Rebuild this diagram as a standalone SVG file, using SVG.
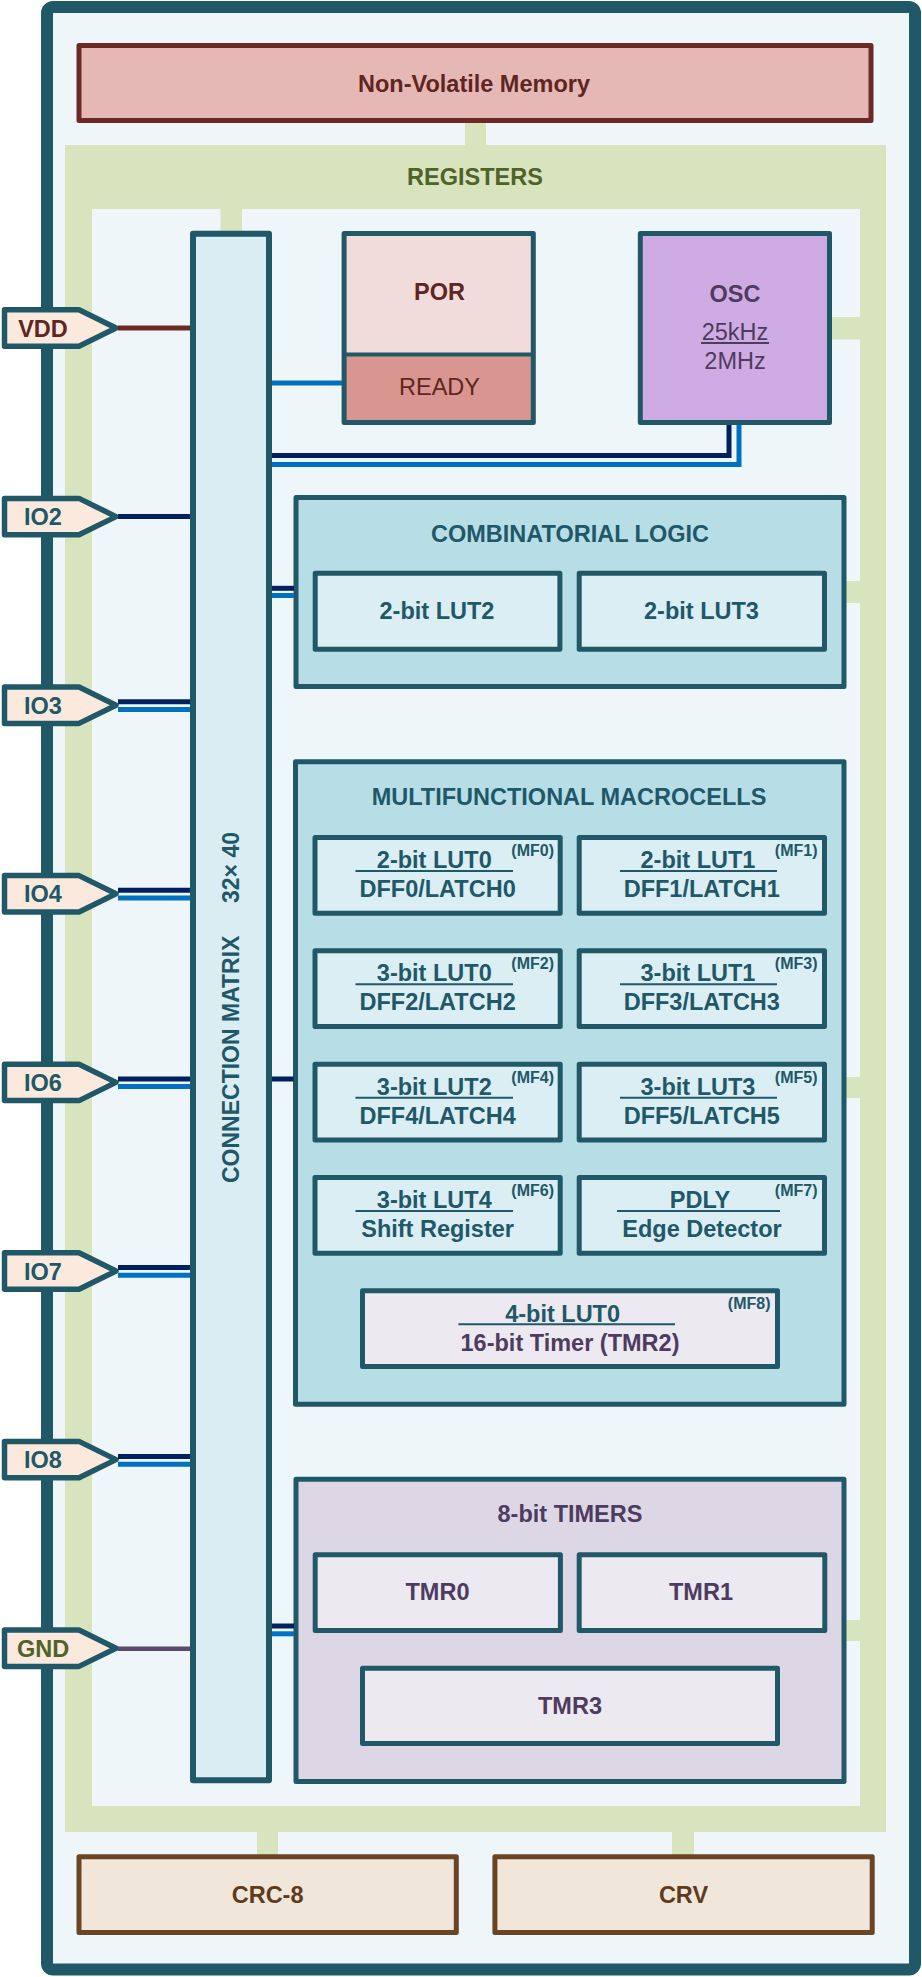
<svg xmlns="http://www.w3.org/2000/svg" width="922" height="1977" viewBox="0 0 922 1977">
<style>
text{font-family:"Liberation Sans",Arial,sans-serif;font-size:23.5px;text-anchor:middle}
.b{font-weight:bold}
.teal{fill:#215868}.mar{fill:#5F2522}.pur{fill:#4F3B5F}.olv{fill:#4F6228}.brn{fill:#5E3B1C}
.box{stroke:#215868;stroke-width:5;stroke-linejoin:round}
.blk{fill:#B7DDE7}.sub{fill:#DBEEF4}.tsub{fill:#ECE9F1}
.mf{font-size:16px;font-weight:bold;text-anchor:end;fill:#215868}
.ul{stroke:#215868;stroke-width:2}
.grn{fill:#D8E4BE}
.pin{fill:#FBE9DD;stroke:#215868;stroke-width:5.5;stroke-linejoin:round}
.nv{stroke:#002060;stroke-width:5;fill:none}
.bl{stroke:#0070C0;stroke-width:5;fill:none}
</style>
<!-- outer frame -->
<rect id="frame" x="47" y="7" width="868" height="1962.5" rx="6" fill="#EEF6F9" stroke="#215868" stroke-width="12"/>

<!-- registers -->
<g id="registers">
<rect class="grn" x="65" y="145" width="821" height="1687"/>
<rect x="92" y="209" width="768" height="1597" fill="#EEF6F9"/>
<text class="b olv" x="475" y="184.5">REGISTERS</text>
</g>

<!-- register stubs -->
<g id="register-links">
<rect class="grn" x="465" y="121" width="21" height="26"/>
<rect class="grn" x="220.5" y="207" width="21.5" height="26"/>
<rect class="grn" x="830" y="317" width="32" height="22.5"/>
<rect class="grn" x="845" y="581" width="17" height="22"/>
<rect class="grn" x="845" y="1077" width="17" height="21"/>
<rect class="grn" x="845" y="1620" width="17" height="21"/>
<rect class="grn" x="257" y="1830" width="21" height="26"/>
<rect class="grn" x="672" y="1830" width="22" height="26"/>
</g>

<g id="nvm">
<rect x="79" y="45.5" width="792" height="75" fill="#E5B8B5" stroke="#6B2A26" stroke-width="5" stroke-linejoin="round"/>
<text class="b mar" x="474" y="91.5">Non-Volatile Memory</text>
</g>

<g id="connection-matrix">
<rect x="193" y="233.7" width="76" height="1546.5" fill="#DAEDF3" stroke="#215868" stroke-width="6" stroke-linejoin="round"/>
<text class="b teal" transform="translate(239,1183) rotate(-90)" style="font-size:23px;text-anchor:start">CONNECTION MATRIX</text>
<text class="b teal" transform="translate(239,903) rotate(-90)" style="font-size:23px;text-anchor:start">32× 40</text>
</g>

<g id="por">
<rect x="344.1" y="233.5" width="189.2" height="121" fill="#F1DCDB"/>
<rect x="344.1" y="354.5" width="189.2" height="68" fill="#D9958F"/>
<line x1="344.1" y1="354.5" x2="533.3" y2="354.5" stroke="#215868" stroke-width="4"/>
<rect class="box" x="344.1" y="233.5" width="189.2" height="189" fill="none"/>
<text class="b mar" x="439.5" y="300">POR</text>
<text class="mar" x="439.5" y="395">READY</text>
</g>

<g id="osc">
<rect class="box" x="640.3" y="233.5" width="189.2" height="189" fill="#CFABE3"/>
<text class="b pur" x="735" y="301.5">OSC</text>
<text class="pur" x="735" y="340">25kHz</text>
<line x1="701" y1="343" x2="769" y2="343" stroke="#4F3B5F" stroke-width="1.8"/>
<text class="pur" x="735" y="368.5">2MHz</text>
</g>

<g id="combinatorial-logic">
<rect class="box blk" x="296" y="497.5" width="548" height="189"/>
<text class="b teal" x="570" y="541.5">COMBINATORIAL LOGIC</text>
<rect class="box sub" x="315.2" y="573.2" width="244.7" height="76"/>
<text class="b teal" x="437" y="619">2-bit LUT2</text>
<rect class="box sub" x="579.2" y="573.2" width="245.3" height="76"/>
<text class="b teal" x="701.5" y="619">2-bit LUT3</text>
</g>

<g id="macrocells">
<rect class="box blk" x="295.5" y="761.8" width="548.5" height="642.4"/>
<text class="b teal" x="569" y="805.3">MULTIFUNCTIONAL MACROCELLS</text>
</g>
<g id="mf0">
<rect class="box sub" x="315" y="837.5" width="245.2" height="75.7"/>
<text class="b teal" x="434.3" y="868">2-bit LUT0</text>
<line class="ul" x1="355.5" y1="871" x2="513" y2="871"/>
<text class="b teal" x="437.6" y="897">DFF0/LATCH0</text>
<text class="mf" x="554" y="856">(MF0)</text>
</g>
<g id="mf1">
<rect class="box sub" x="579.2" y="837.5" width="245.3" height="75.7"/>
<text class="b teal" x="698" y="868">2-bit LUT1</text>
<line class="ul" x1="620" y1="871" x2="777" y2="871"/>
<text class="b teal" x="701.8" y="897">DFF1/LATCH1</text>
<text class="mf" x="817.5" y="856">(MF1)</text>
</g>
<g id="mf2">
<rect class="box sub" x="315" y="950.8" width="245.2" height="75.7"/>
<text class="b teal" x="434.3" y="981.3">3-bit LUT0</text>
<line class="ul" x1="355.5" y1="984.3" x2="513" y2="984.3"/>
<text class="b teal" x="437.6" y="1010.3">DFF2/LATCH2</text>
<text class="mf" x="554" y="969.3">(MF2)</text>
</g>
<g id="mf3">
<rect class="box sub" x="579.2" y="950.8" width="245.3" height="75.7"/>
<text class="b teal" x="698" y="981.3">3-bit LUT1</text>
<line class="ul" x1="620" y1="984.3" x2="777" y2="984.3"/>
<text class="b teal" x="701.8" y="1010.3">DFF3/LATCH3</text>
<text class="mf" x="817.5" y="969.3">(MF3)</text>
</g>
<g id="mf4">
<rect class="box sub" x="315" y="1064.2" width="245.2" height="75.7"/>
<text class="b teal" x="434.3" y="1094.7">3-bit LUT2</text>
<line class="ul" x1="355.5" y1="1097.7" x2="513" y2="1097.7"/>
<text class="b teal" x="437.6" y="1123.7">DFF4/LATCH4</text>
<text class="mf" x="554" y="1082.7">(MF4)</text>
</g>
<g id="mf5">
<rect class="box sub" x="579.2" y="1064.2" width="245.3" height="75.7"/>
<text class="b teal" x="698" y="1094.7">3-bit LUT3</text>
<line class="ul" x1="620" y1="1097.7" x2="777" y2="1097.7"/>
<text class="b teal" x="701.8" y="1123.7">DFF5/LATCH5</text>
<text class="mf" x="817.5" y="1082.7">(MF5)</text>
</g>
<g id="mf6">
<rect class="box sub" x="315" y="1177.5" width="245.2" height="75.7"/>
<text class="b teal" x="434.3" y="1208">3-bit LUT4</text>
<line class="ul" x1="355.5" y1="1211" x2="513" y2="1211"/>
<text class="b teal" x="437.6" y="1237">Shift Register</text>
<text class="mf" x="554" y="1196">(MF6)</text>
</g>
<g id="mf7">
<rect class="box sub" x="579.2" y="1177.5" width="245.3" height="75.7"/>
<text class="b teal" x="700" y="1208">PDLY</text>
<line class="ul" x1="617" y1="1211" x2="780" y2="1211"/>
<text class="b teal" x="702" y="1237">Edge Detector</text>
<text class="mf" x="817.5" y="1196">(MF7)</text>
</g>
<g id="mf8">
<rect class="box tsub" x="362.5" y="1290.8" width="415" height="75.7"/>
<text class="b teal" x="562.6" y="1321.8">4-bit LUT0</text>
<line class="ul" x1="458.4" y1="1324.3" x2="675" y2="1324.3"/>
<text class="b pur" x="570" y="1350.5">16-bit Timer (TMR2)</text>
<text class="mf" x="770.5" y="1309.3">(MF8)</text>
</g>

<g id="timers">
<rect class="box" x="296" y="1479.2" width="548" height="302.3" fill="#DDD7E5"/>
<text class="b pur" x="570" y="1522">8-bit TIMERS</text>
</g>
<g id="tmr0">
<rect class="box tsub" x="315.2" y="1554.8" width="245.2" height="75.7"/>
<text class="b pur" x="437.5" y="1600.3">TMR0</text>
</g>
<g id="tmr1">
<rect class="box tsub" x="579.2" y="1554.8" width="245.6" height="75.7"/>
<text class="b pur" x="701" y="1600.3">TMR1</text>
</g>
<g id="tmr3">
<rect class="box tsub" x="362.5" y="1668.2" width="415" height="75.3"/>
<text class="b pur" x="570" y="1713.6">TMR3</text>
</g>

<g id="crc8">
<rect x="79" y="1856.8" width="377.3" height="75.7" fill="#F1E6DA" stroke="#6A4423" stroke-width="5" stroke-linejoin="round"/>
<text class="b brn" x="267.6" y="1902.6">CRC-8</text>
</g>
<g id="crv">
<rect x="494.9" y="1856.8" width="377.3" height="75.7" fill="#F1E6DA" stroke="#6A4423" stroke-width="5" stroke-linejoin="round"/>
<text class="b brn" x="683.5" y="1902.6">CRV</text>
</g>

<!-- pins -->
<g id="pin-vdd"><polygon class="pin" points="4.5,309.8 79,309.8 116,328 79,346.2 4.5,346.2"/><text class="b mar" x="43" y="336.5">VDD</text></g>
<g id="pin-io2"><polygon class="pin" points="4.5,498.4 79,498.4 116,516.6 79,534.8 4.5,534.8"/><text class="b teal" x="43" y="525.1">IO2</text></g>
<g id="pin-io3"><polygon class="pin" points="4.5,687 79,687 116,705.2 79,723.4 4.5,723.4"/><text class="b teal" x="43" y="713.7">IO3</text></g>
<g id="pin-io4"><polygon class="pin" points="4.5,875.6 79,875.6 116,893.8 79,912 4.5,912"/><text class="b teal" x="43" y="902.3">IO4</text></g>
<g id="pin-io6"><polygon class="pin" points="4.5,1064.2 79,1064.2 116,1082.4 79,1100.6 4.5,1100.6"/><text class="b teal" x="43" y="1090.9">IO6</text></g>
<g id="pin-io7"><polygon class="pin" points="4.5,1252.8 79,1252.8 116,1271 79,1289.2 4.5,1289.2"/><text class="b teal" x="43" y="1279.5">IO7</text></g>
<g id="pin-io8"><polygon class="pin" points="4.5,1441.4 79,1441.4 116,1459.6 79,1477.8 4.5,1477.8"/><text class="b teal" x="43" y="1468.1">IO8</text></g>
<g id="pin-gnd"><polygon class="pin" points="4.5,1630 79,1630 116,1648.2 79,1666.4 4.5,1666.4"/><text class="b olv" x="43" y="1656.7">GND</text></g>

<!-- connectors -->
<g id="connectors">
<line x1="118" y1="328" x2="190" y2="328" stroke="#6B2A26" stroke-width="5"/>
<line class="nv" x1="118" y1="516.6" x2="190" y2="516.6"/>
<line class="nv" x1="118" y1="701.7" x2="190" y2="701.7"/><line class="bl" x1="118" y1="709.4" x2="190" y2="709.4"/>
<line class="nv" x1="118" y1="890.3" x2="190" y2="890.3"/><line class="bl" x1="118" y1="898" x2="190" y2="898"/>
<line class="nv" x1="118" y1="1078.9" x2="190" y2="1078.9"/><line class="bl" x1="118" y1="1086.6" x2="190" y2="1086.6"/>
<line class="nv" x1="118" y1="1267.5" x2="190" y2="1267.5"/><line class="bl" x1="118" y1="1275.2" x2="190" y2="1275.2"/>
<line class="nv" x1="118" y1="1456.5" x2="190" y2="1456.5"/><line class="bl" x1="118" y1="1464.2" x2="190" y2="1464.2"/>
<line x1="118" y1="1648.8" x2="190" y2="1648.8" stroke="#5B4A6B" stroke-width="4.5"/>
<line class="bl" x1="272" y1="383" x2="342" y2="383"/>
<polyline class="nv" points="729,425 729,455.5 272,455.5"/>
<polyline class="bl" points="739,425 739,464.5 272,464.5"/>
<line class="nv" x1="272" y1="588.3" x2="294" y2="588.3"/><line class="bl" x1="272" y1="595.5" x2="294" y2="595.5"/>
<line class="nv" x1="272" y1="1079" x2="293.5" y2="1079"/>
<line class="nv" x1="272" y1="1626" x2="294" y2="1626"/><line class="bl" x1="272" y1="1633.8" x2="294" y2="1633.8"/>
</g>
</svg>
